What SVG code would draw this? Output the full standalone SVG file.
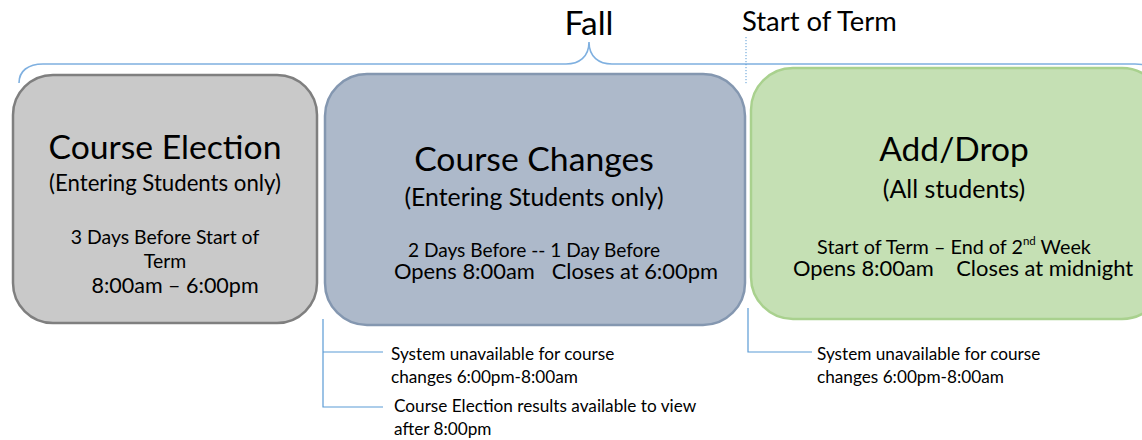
<svg xmlns="http://www.w3.org/2000/svg" width="1142" height="440" viewBox="0 0 1142 440">
<style>
text{font-family:Lato,"Carlito","Open Sans",sans-serif;fill:#000}
.c{text-anchor:middle}
.line{fill:none;stroke:#5b9bd5;stroke-width:1.2}
.brace{fill:none;stroke:#7fb0e0;stroke-width:1.6}
.note{font-size:17.2px}
</style>
<rect width="1142" height="440" fill="#fff"/>
<g id="brace">
<path class="brace" d="M19,83 C19,71 28,64 43,64 L566,64 C579,64 589,57 589,42 C589,57 599,64 612,64 L1135,64 C1150,64 1159,71 1159,83"/>
<text x="589" y="35" class="c" font-size="33.5">Fall</text>
</g>
<g id="start-of-term">
<line x1="746" y1="37" x2="746" y2="84" stroke="#5b9bd5" stroke-width="1" stroke-dasharray="1.2,1.8"/>
<text x="742" y="31" font-size="27.4">Start of Term</text>
</g>
<g id="course-election">
<rect x="13" y="75" width="304" height="248" rx="40" fill="#c9c9c9" stroke="#7f7f7f" stroke-width="2.5"/>
<text x="165" y="159" class="c" font-size="33.7">Course Election</text>
<text x="165" y="191" class="c" font-size="22.2">(Entering Students only)</text>
<text x="165" y="244" class="c" font-size="19.4">3 Days Before Start of</text>
<text x="165" y="268" class="c" font-size="19.4">Term</text>
<text x="175" y="293" class="c" font-size="21.5">8:00am – 6:00pm</text>
</g>
<g id="course-changes">
<rect x="325" y="74" width="420" height="251" rx="42" fill="#adb9ca" stroke="#8497b0" stroke-width="2.5"/>
<text x="534" y="171" class="c" font-size="33.7">Course Changes</text>
<text x="534" y="206" class="c" font-size="24.8">(Entering Students only)</text>
<text x="534" y="257" class="c" font-size="19.1">2 Days Before -- 1 Day Before</text>
<text x="556" y="279" class="c" font-size="21.9" xml:space="preserve">Opens 8:00am   Closes at 6:00pm</text>
</g>
<g id="add-drop">
<rect x="751" y="68" width="413" height="251" rx="42" fill="#c5e0b4" stroke="#a9d18e" stroke-width="2.5"/>
<text x="954" y="161" class="c" font-size="33.5">Add/Drop</text>
<text x="954" y="198" class="c" font-size="25">(All students)</text>
<text x="954" y="254" class="c" font-size="19.8" xml:space="preserve">Start of Term – End of 2<tspan font-size="11.5" dy="-9">nd</tspan><tspan dy="9"> Week</tspan></text>
<text x="963" y="276" class="c" font-size="21.9" xml:space="preserve">Opens 8:00am    Closes at midnight</text>
</g>
<g id="connectors">
<path class="line" d="M323,319 V407 H383 M323,352 H383"/>
<path class="line" d="M748,308 V352 H812"/>
</g>
<g id="note-1">
<text x="391" y="360" class="note">System unavailable for course</text>
<text x="391" y="383" class="note">changes 6:00pm-8:00am</text>
</g>
<g id="note-2">
<text x="394" y="412" class="note">Course Election results available to view</text>
<text x="394" y="435" class="note">after 8:00pm</text>
</g>
<g id="note-3">
<text x="817" y="360" class="note">System unavailable for course</text>
<text x="817" y="383" class="note">changes 6:00pm-8:00am</text>
</g>
</svg>
